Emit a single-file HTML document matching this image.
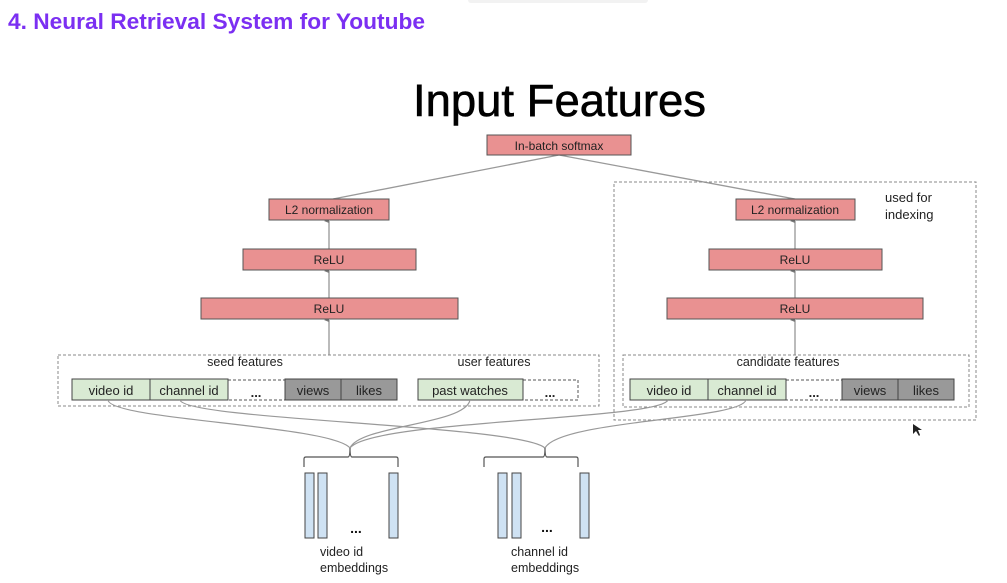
<!DOCTYPE html>
<html><head><meta charset="utf-8"><style>
html,body{margin:0;padding:0;background:#fff;width:1007px;height:583px;overflow:hidden}
svg{display:block}
text{font-family:"Liberation Sans",Arial,sans-serif}
</style></head><body>
<svg width="1007" height="583" viewBox="0 0 1007 583" xmlns="http://www.w3.org/2000/svg">
<defs><marker id="a" markerWidth="6" markerHeight="6" refX="3" refY="5" orient="auto"><path d="M1,5 L3,0 L5,5z" fill="#777"/></marker></defs>
<rect x="468" y="-4" width="180" height="7" rx="3" fill="#f2f2f2"/>
<text x="8" y="29" font-size="22" font-weight="bold" fill="#7b2ff2" textLength="417" lengthAdjust="spacingAndGlyphs">4. Neural Retrieval System for Youtube</text>
<text x="413" y="116" font-size="45" fill="#000" textLength="293" lengthAdjust="spacingAndGlyphs" stroke="#000" stroke-width="0.6">Input Features</text>

<g stroke="#999" stroke-width="1.3" fill="none">
<line x1="559" y1="155" x2="333" y2="199"/>
<line x1="559" y1="155" x2="795" y2="199"/>
</g>
<g stroke="#777" stroke-width="1" marker-end="url(#a)">
<line x1="329" y1="249" x2="329" y2="221"/>
<line x1="329" y1="298" x2="329" y2="271"/>
<line x1="329" y1="355" x2="329" y2="320"/>
<line x1="795" y1="249" x2="795" y2="221"/>
<line x1="795" y1="298" x2="795" y2="271"/>
<line x1="795" y1="355" x2="795" y2="320"/>
</g>

<g fill="#e99191" stroke="#555" stroke-width="1">
<rect x="487" y="135" width="144" height="20"/>
<rect x="269" y="199" width="120" height="21"/>
<rect x="243" y="249" width="173" height="21"/>
<rect x="201" y="298" width="257" height="21"/>
<rect x="736" y="199" width="119" height="21"/>
<rect x="709" y="249" width="173" height="21"/>
<rect x="667" y="298" width="256" height="21"/>
</g>
<g font-size="12" text-anchor="middle" fill="#222">
<text x="559" y="150">In-batch softmax</text>
<text x="329" y="214">L2 normalization</text>
<text x="329" y="264">ReLU</text>
<text x="329" y="313">ReLU</text>
<text x="795" y="214">L2 normalization</text>
<text x="795" y="264">ReLU</text>
<text x="795" y="313">ReLU</text>
</g>

<g fill="none" stroke="#888" stroke-width="1" stroke-dasharray="3,2">
<rect x="614" y="182" width="362" height="238"/>
<rect x="58" y="355" width="541" height="51"/>
<rect x="623" y="355" width="346" height="52"/>
<rect x="228" y="380" width="57" height="20" stroke="#555"/>
<rect x="523" y="380" width="55" height="20" stroke="#555"/>
<rect x="786" y="380" width="56" height="20" stroke="#555"/>
</g>
<g font-size="13" fill="#222">
<text x="885" y="202">used for</text>
<text x="885" y="219">indexing</text>
</g>
<g font-size="12.5" text-anchor="middle" fill="#222">
<text x="245" y="366">seed features</text>
<text x="494" y="366">user features</text>
<text x="788" y="366">candidate features</text>
</g>

<g stroke="#444" stroke-width="1">
<rect x="72" y="379" width="78" height="21" fill="#d9ead3"/>
<rect x="150" y="379" width="78" height="21" fill="#d9ead3"/>
<rect x="285" y="379" width="56" height="21" fill="#999"/>
<rect x="341" y="379" width="56" height="21" fill="#999"/>
<rect x="418" y="379" width="105" height="21" fill="#d9ead3"/>
<rect x="630" y="379" width="78" height="21" fill="#d9ead3"/>
<rect x="708" y="379" width="78" height="21" fill="#d9ead3"/>
<rect x="842" y="379" width="56" height="21" fill="#999"/>
<rect x="898" y="379" width="56" height="21" fill="#999"/>
</g>
<g font-size="13" text-anchor="middle" fill="#222">
<text x="111" y="395">video id</text>
<text x="189" y="395">channel id</text>
<text x="256" y="397" font-weight="bold">...</text>
<text x="313" y="395">views</text>
<text x="369" y="395">likes</text>
<text x="470" y="395">past watches</text>
<text x="550" y="397" font-weight="bold">...</text>
<text x="669" y="395">video id</text>
<text x="747" y="395">channel id</text>
<text x="814" y="397" font-weight="bold">...</text>
<text x="870" y="395">views</text>
<text x="926" y="395">likes</text>
</g>

<g stroke="#999" stroke-width="1.2" fill="none">
<path d="M108,400 C110,420 330,425 350,448"/>
<path d="M180,400 C185,420 520,425 545,448"/>
<path d="M470,400 C465,425 360,425 350,448"/>
<path d="M668,400 C660,420 370,420 350,448"/>
<path d="M746,400 C740,420 560,420 545,448"/>
</g>
<g stroke="#555" stroke-width="1.2" fill="none">
<path d="M304,467 L304,459 Q304,457 306,457 L348,457 Q350,457 350,448 Q350,457 352,457 L396,457 Q398,457 398,459 L398,467"/>
<path d="M484,467 L484,459 Q484,457 486,457 L543,457 Q545,457 545,448 Q545,457 547,457 L576,457 Q578,457 578,459 L578,467"/>
</g>
<g fill="#cfe2f3" stroke="#444" stroke-width="1">
<rect x="305" y="473" width="9" height="65"/>
<rect x="318" y="473" width="9" height="65"/>
<rect x="389" y="473" width="9" height="65"/>
<rect x="498" y="473" width="9" height="65"/>
<rect x="512" y="473" width="9" height="65"/>
<rect x="580" y="473" width="9" height="65"/>
</g>
<g font-size="14" font-weight="bold" fill="#111" text-anchor="middle">
<text x="356" y="533">...</text>
<text x="547" y="532">...</text>
</g>
<g font-size="12.5" fill="#222">
<text x="320" y="556">video id</text>
<text x="320" y="572">embeddings</text>
<text x="511" y="556">channel  id</text>
<text x="511" y="572">embeddings</text>
</g>
<path d="M913,424 L913,434 L916,431 L919,436 L920,435 L918,430 L922,430z" fill="#222"/>
</svg>
</body></html>
